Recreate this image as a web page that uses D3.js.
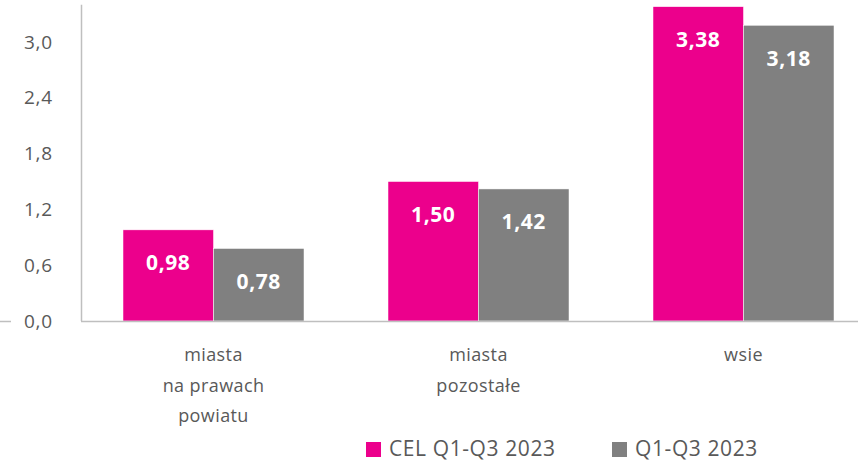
<!DOCTYPE html>
<html>
<head>
<meta charset="utf-8">
<script src="https://cdn.jsdelivr.net/npm/d3@7"></script>
<style>
  body { margin: 0; background: #fff; }
  svg text { font-family: "Open Sans", "Noto Sans", sans-serif; }
</style>
</head>
<body>
<svg id="chart" width="858" height="462"></svg>
<script>
const categories = [['miasta', 'na prawach', 'powiatu'], ['miasta', 'pozostałe'], ['wsie']];
const seriesNames = ['CEL Q1-Q3 2023', 'Q1-Q3 2023'];
const celValues = [0.98, 1.50, 3.38];
const actualValues = [0.78, 1.42, 3.18];
const yTicks = [0, 0.6, 1.2, 1.8, 2.4, 3.0];
const colors = ['#ec008c', '#808080'];

const svg = d3.select('#chart');
const fmt = (v, d) => v.toFixed(d).replace('.', ',');

const left = 81;
const base = 321;

const yScale = d3.scaleLinear()
  .domain([0, 3.4])
  .range([base, base - 3.4 * 93]);

const xScale = d3.scaleBand()
  .domain(d3.range(categories.length))
  .range([left, left + 3 * 265])
  .paddingInner(0)
  .paddingOuter(0);

const inner = d3.scaleBand()
  .domain(d3.range(seriesNames.length))
  .range([42, 223]);

// y axis labels
svg.append('g')
  .selectAll('text')
  .data(yTicks)
  .enter()
  .append('text')
  .attr('x', 53)
  .attr('y', (d) => yScale(d))
  .attr('dy', '0.35em')
  .attr('text-anchor', 'end')
  .attr('fill', '#595959')
  .attr('font-size', 19)
  .attr('letter-spacing', 0.8)
  .text((d) => fmt(d, 1));

// bars
const groups = svg.append('g')
  .selectAll('g')
  .data(categories)
  .enter()
  .append('g')
  .attr('transform', (d, i) => `translate(${xScale(i)}, 0)`);

const rows = celValues.map((v, i) => [v, actualValues[i]]);

groups.selectAll('rect')
  .data((d, i) => rows[i])
  .enter()
  .append('rect')
  .attr('x', (d, j) => inner(j))
  .attr('y', (d) => yScale(d))
  .attr('width', inner.bandwidth())
  .attr('height', (d) => base - yScale(d))
  .attr('fill', (d, j) => colors[j])
  .attr('stroke', '#fff')
  .attr('stroke-width', 0.5);

groups.selectAll('text.val')
  .data((d, i) => rows[i])
  .enter()
  .append('text')
  .attr('class', 'val')
  .attr('x', (d, j) => inner(j) + inner.bandwidth() / 2)
  .attr('y', (d) => yScale(d) + 33)
  .attr('dy', '0.35em')
  .attr('text-anchor', 'middle')
  .attr('fill', '#fff')
  .attr('font-weight', 'bold')
  .attr('font-size', 21)
  .attr('letter-spacing', 0.6)
  .text((d) => fmt(d, 2));

// axes lines
svg.append('line')
  .attr('x1', left).attr('x2', 858)
  .attr('y1', base + 0.5).attr('y2', base + 0.5)
  .attr('stroke', '#bfbfbf').attr('stroke-width', 1.5);
svg.append('line')
  .attr('x1', left + 0.5).attr('x2', left + 0.5)
  .attr('y1', yScale(3.4)).attr('y2', base)
  .attr('stroke', '#bfbfbf').attr('stroke-width', 1.5);
svg.append('line')
  .attr('x1', 0).attr('x2', 11)
  .attr('y1', base + 0.5).attr('y2', base + 0.5)
  .attr('stroke', '#bfbfbf').attr('stroke-width', 1.5);

// category labels
groups.each(function (lines) {
  const g = d3.select(this);
  g.selectAll('text.cat')
    .data(lines)
    .enter()
    .append('text')
    .attr('class', 'cat')
    .attr('x', xScale.bandwidth() / 2)
    .attr('y', (d, k) => 355 + k * 30.5)
    .attr('dy', '0.35em')
    .attr('text-anchor', 'middle')
    .attr('fill', '#595959')
    .attr('font-size', 18)
    .attr('letter-spacing', 0.4)
    .text((d) => d);
});

// legend
const legendX = [366, 612];
const legend = svg.append('g')
  .selectAll('g')
  .data(seriesNames)
  .enter()
  .append('g')
  .attr('transform', (d, i) => `translate(${legendX[i]}, 449)`);

legend.append('rect')
  .attr('x', 0).attr('y', -7)
  .attr('width', 15).attr('height', 15)
  .attr('fill', (d, i) => colors[i]);

legend.append('text')
  .attr('x', 23)
  .attr('y', 0)
  .attr('dy', '0.35em')
  .attr('fill', '#595959')
  .attr('font-size', 21)
  .attr('letter-spacing', 0.6)
  .text((d) => d);
</script>
</body>
</html>
